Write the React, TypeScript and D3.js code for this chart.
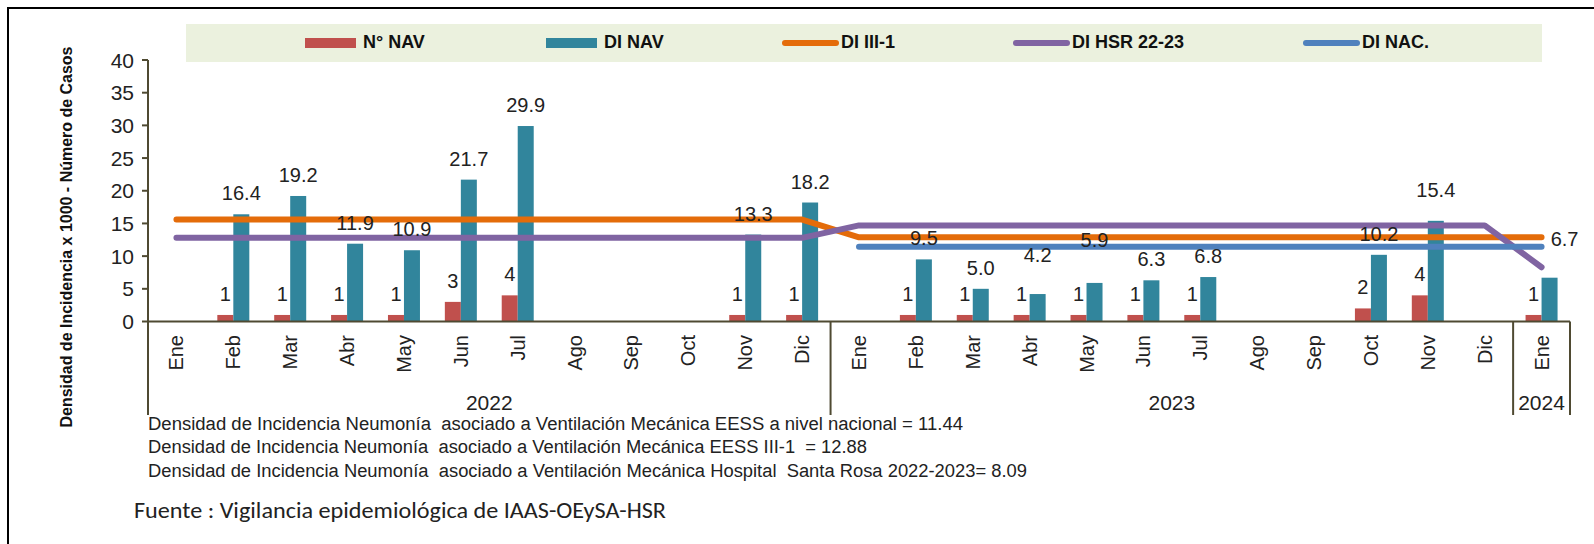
import React, { useRef, useEffect } from "react";
import * as d3 from "d3";

const W = 1594;
const H = 544;

const months = ["Ene", "Feb", "Mar", "Abr", "May", "Jun", "Jul", "Ago", "Sep", "Oct", "Nov", "Dic"];
const years = ["2022", "2023", "2024"];
const monthsPerYear = [12, 12, 1];

// N° NAV (número de casos)
const numNav = [null, 1, 1, 1, 1, 3, 4, null, null, null, 1, 1,
  null, 1, 1, 1, 1, 1, 1, null, null, 2, 4, null,
  1];
// DI NAV (densidad de incidencia)
const diNav = [null, 16.4, 19.2, 11.9, 10.9, 21.7, 29.9, null, null, null, 13.3, 18.2,
  null, 9.5, 5.0, 4.2, 5.9, 6.3, 6.8, null, null, 10.2, 15.4, null,
  6.7];
const diIII1 = [15.6, 15.6, 15.6, 15.6, 15.6, 15.6, 15.6, 15.6, 15.6, 15.6, 15.6, 15.6,
  12.88, 12.88, 12.88, 12.88, 12.88, 12.88, 12.88, 12.88, 12.88, 12.88, 12.88, 12.88,
  12.88];
const diHsr = [12.8, 12.8, 12.8, 12.8, 12.8, 12.8, 12.8, 12.8, 12.8, 12.8, 12.8, 12.8,
  14.7, 14.7, 14.7, 14.7, 14.7, 14.7, 14.7, 14.7, 14.7, 14.7, 14.7, 14.7,
  8.3];
const diNac = [null, null, null, null, null, null, null, null, null, null, null, null,
  11.44, 11.44, 11.44, 11.44, 11.44, 11.44, 11.44, 11.44, 11.44, 11.44, 11.44, 11.44,
  11.44];

const yTicks = [0, 5, 10, 15, 20, 25, 30, 35, 40];

const notes = [
  "Densidad de Incidencia Neumonía  asociado a Ventilación Mecánica EESS a nivel nacional = 11.44",
  "Densidad de Incidencia Neumonía  asociado a Ventilación Mecánica EESS III-1  = 12.88",
  "Densidad de Incidencia Neumonía  asociado a Ventilación Mecánica Hospital  Santa Rosa 2022-2023= 8.09",
];
const source = "Fuente : Vigilancia epidemiológica de IAAS-OEySA-HSR";

const colors = {
  numNav: "#C0504D",
  diNav: "#31859C",
  iii1: "#E46C0A",
  hsr: "#8064A2",
  nac: "#4F81BD",
  axis: "#4F4A32",
};

// labels moved by hand in the original chart (index -> [dx, dy])
const diNavNudge: Record<number, [number, number]> = {
  15: [0, -18],
  16: [0, -22],
  22: [0, -10],
  24: [15, -18],
};

const FONT = "'Liberation Sans', Arial, sans-serif";

const App = () => {
  const svgRef = useRef<SVGSVGElement>(null);

  useEffect(() => {
    const svg = d3.select(svgRef.current);
    svg.selectAll("*").remove();

    const left = 148, right = 1570, top = 60, bottom = 321.5, boxBottom = 415;
    const n = diNav.length;

    const x = d3.scaleBand<number>().domain(d3.range(n)).range([left, right]).padding(0);
    const cx = (i: number) => (x(i) as number) + x.bandwidth() / 2;
    const sub = d3.scaleBand<string>().domain(["num", "di"]).range([-16, 16]).padding(0);
    const y = d3.scaleLinear().domain([0, 40]).range([bottom, top]);

    // frame
    svg.append("rect")
      .attr("x", 8).attr("y", 8).attr("width", 1600).attr("height", 600)
      .attr("fill", "none").attr("stroke", "#000").attr("stroke-width", 2);

    // legend
    svg.append("rect")
      .attr("x", 186).attr("y", 24).attr("width", 1356).attr("height", 38)
      .attr("fill", "#EBF1DE");

    const legend = [
      { name: "N° NAV", type: "bar", color: colors.numNav, x: 305 },
      { name: "DI NAV", type: "bar", color: colors.diNav, x: 546 },
      { name: "DI III-1", type: "line", color: colors.iii1, x: 782 },
      { name: "DI HSR 22-23", type: "line", color: colors.hsr, x: 1013 },
      { name: "DI NAC.", type: "line", color: colors.nac, x: 1303 },
    ];
    legend.forEach(item => {
      const lx = item.x;
      if (item.type === "bar") {
        svg.append("rect").attr("x", lx).attr("y", 38).attr("width", 51).attr("height", 10)
          .attr("fill", item.color);
      } else {
        svg.append("line").attr("x1", lx + 3).attr("x2", lx + 54).attr("y1", 43).attr("y2", 43)
          .attr("stroke", item.color).attr("stroke-width", 6).attr("stroke-linecap", "round");
      }
      svg.append("text").attr("x", lx + (item.type === "bar" ? 58 : 59)).attr("y", 48)
        .attr("font-family", FONT).attr("font-size", 18).attr("font-weight", "bold")
        .attr("fill", "#111").text(item.name);
    });

    // bars
    const g = svg.append("g");
    g.selectAll(".num").data(numNav).join("rect")
      .attr("class", "num")
      .attr("x", (d, i) => cx(i) + (sub("num") as number))
      .attr("y", d => (d == null ? bottom : y(d)))
      .attr("width", sub.bandwidth())
      .attr("height", d => (d == null ? 0 : y(0) - y(d)))
      .attr("fill", colors.numNav);

    g.selectAll(".di").data(diNav).join("rect")
      .attr("class", "di")
      .attr("x", (d, i) => cx(i) + (sub("di") as number))
      .attr("y", d => (d == null ? bottom : y(d)))
      .attr("width", sub.bandwidth())
      .attr("height", d => (d == null ? 0 : y(0) - y(d)))
      .attr("fill", colors.diNav);

    // lines
    const series = [
      { data: diIII1, color: colors.iii1 },
      { data: diHsr, color: colors.hsr },
      { data: diNac, color: colors.nac },
    ];
    const line = d3.line<number | null>()
      .defined(d => d != null)
      .x((d, i) => cx(i))
      .y(d => y(d as number));
    series.forEach(s => {
      svg.append("path").attr("d", line(s.data))
        .attr("fill", "none").attr("stroke", s.color).attr("stroke-width", 6)
        .attr("stroke-linecap", "round").attr("stroke-linejoin", "round");
    });

    // axes
    const axis = svg.append("g").attr("stroke", colors.axis).attr("stroke-width", 2);
    axis.append("line").attr("x1", left).attr("x2", left).attr("y1", top).attr("y2", boxBottom);
    axis.append("line").attr("x1", left).attr("x2", right).attr("y1", bottom).attr("y2", bottom);
    yTicks.forEach(t => {
      axis.append("line").attr("x1", left - 6).attr("x2", left).attr("y1", y(t)).attr("y2", y(t));
    });
    let start = 0;
    monthsPerYear.forEach(m => {
      start += m;
      const xe = start >= n ? right : (x(start) as number);
      axis.append("line").attr("x1", xe).attr("x2", xe).attr("y1", bottom).attr("y2", boxBottom);
    });

    svg.append("g").selectAll("text").data(yTicks).join("text")
      .attr("x", 134).attr("y", d => y(d) + 7.5)
      .attr("text-anchor", "end")
      .attr("font-family", FONT).attr("font-size", 21).attr("fill", "#222")
      .text(d => d);

    // month labels
    const cats = monthsPerYear.flatMap(m => months.slice(0, m));
    svg.append("g").selectAll("text").data(cats).join("text")
      .attr("transform", (d, i) => `translate(${cx(i) + 7},335) rotate(-90)`)
      .attr("text-anchor", "end")
      .attr("font-family", FONT).attr("font-size", 20).attr("fill", "#222")
      .text(d => d);

    // year labels
    start = 0;
    monthsPerYear.forEach((m, k) => {
      const x0 = x(start) as number;
      const x1 = start + m >= n ? right : (x(start + m) as number);
      svg.append("text").attr("x", (x0 + x1) / 2).attr("y", 410)
        .attr("text-anchor", "middle")
        .attr("font-family", FONT).attr("font-size", 21).attr("fill", "#222")
        .text(years[k]);
      start += m;
    });

    // data labels
    const lab = svg.append("g").attr("font-family", FONT).attr("font-size", 20)
      .attr("fill", "#222").attr("text-anchor", "middle");
    numNav.forEach((d, i) => {
      if (d == null) return;
      lab.append("text").attr("x", cx(i) + (sub("num") as number) + sub.bandwidth() / 2)
        .attr("y", y(d) - 14).text(d3.format("d")(d));
    });
    diNav.forEach((d, i) => {
      if (d == null) return;
      const [dx, dy] = diNavNudge[i] || [0, 0];
      lab.append("text").attr("x", cx(i) + (sub("di") as number) + sub.bandwidth() / 2 + dx)
        .attr("y", y(d) - 14 + dy).text(d3.format(".1f")(d));
    });

    // y title
    svg.append("text")
      .attr("transform", "translate(72,237) rotate(-90)")
      .attr("text-anchor", "middle")
      .attr("font-family", FONT).attr("font-size", 16).attr("font-weight", "bold")
      .attr("fill", "#111")
      .attr("textLength", 381).attr("lengthAdjust", "spacingAndGlyphs")
      .text("Densidad de Incidencia x 1000 - Número de Casos");

    // notes
    const noteWidths = [815, 719, 879];
    const noteY = [430, 453, 477];
    notes.forEach((t, i) => {
      svg.append("text").attr("x", 148).attr("y", noteY[i])
        .attr("font-family", FONT).attr("font-size", 18).attr("fill", "#222")
        .attr("textLength", noteWidths[i]).attr("lengthAdjust", "spacingAndGlyphs")
        .attr("xml:space", "preserve")
        .text(t);
    });
    svg.append("text").attr("x", 134).attr("y", 518)
      .attr("font-family", "Carlito, Calibri, 'Open Sans', sans-serif").attr("font-size", 22)
      .attr("fill", "#222")
      .attr("textLength", 532).attr("lengthAdjust", "spacingAndGlyphs")
      .text(source);
  }, []);

  return (
    <svg
      ref={svgRef}
      width={W}
      height={H}
      style={{ position: "absolute", left: 0, top: 0, background: "#fff" }}
    />
  );
};

export default App;
